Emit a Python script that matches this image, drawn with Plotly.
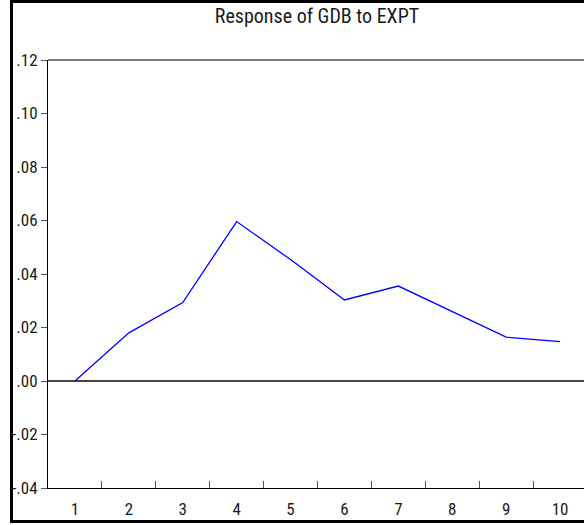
import plotly.graph_objects as go

periods = [1, 2, 3, 4, 5, 6, 7, 8, 9, 10]
response = [0.0, 0.018, 0.0293, 0.0596, 0.0454, 0.0303, 0.0355, 0.026, 0.0164, 0.0147]
y_tick_vals = [0.12, 0.10, 0.08, 0.06, 0.04, 0.02, 0.0, -0.02, -0.04]
y_tick_text = [".12", ".10", ".08", ".06", ".04", ".02", ".00", "-.02", "-.04"]
x_tick_text = [str(p) for p in periods]
between_ticks = [p + 0.5 for p in periods[:-1]]
title_text = "Response of GDB to EXPT"

FONT = "Roboto Condensed, Liberation Sans, Arial, sans-serif"

fig = go.Figure()
fig.add_trace(go.Scatter(x=periods, y=response, mode="lines",
                         line=dict(color="#0000ff", width=1.3),
                         hoverinfo="skip", showlegend=False))
fig.add_trace(go.Scatter(x=periods, y=response, mode="lines", xaxis="x2",
                         line=dict(color="rgba(0,0,0,0)", width=0),
                         hoverinfo="skip", showlegend=False))

xr = [0.5, 10.444]
fig.update_layout(
    width=584, height=525,
    margin=dict(l=48, r=0, t=60, b=37),
    paper_bgcolor="white", plot_bgcolor="white",
    font=dict(family=FONT, size=17, color="#1a1a1a"),
    title=dict(text=title_text, x=317 / 584, xanchor="center",
               y=1 - 16 / 525, yanchor="middle",
               font=dict(family=FONT, size=20, color="#1a1a1a")),
    xaxis=dict(range=xr, tickvals=periods, ticktext=x_tick_text, ticks="",
               showgrid=False, zeroline=False, showline=True, linecolor="black",
               linewidth=1, mirror=False, ticklabelstandoff=6, fixedrange=True),
    xaxis2=dict(range=xr, overlaying="x", anchor="y", side="bottom",
                tickvals=between_ticks, ticks="inside", ticklen=7, tickwidth=1,
                tickcolor="#555", showticklabels=False, showgrid=False,
                zeroline=False, showline=False),
    yaxis=dict(range=[-0.04, 0.12], tickvals=y_tick_vals, ticktext=y_tick_text,
               ticks="outside", ticklen=6, tickwidth=1, tickcolor="#555",
               showgrid=False, zeroline=True, zerolinecolor="#444", zerolinewidth=2,
               showline=True, linecolor="black", linewidth=1, fixedrange=True),
    shapes=[
        dict(type="line", xref="paper", yref="paper", x0=0, x1=1.01, y0=1, y1=1,
             line=dict(color="black", width=1)),
        dict(type="rect", xref="paper", yref="paper",
             x0=(11.5 - 48) / 536, x1=1.05,
             y0=(488 - 521.5) / 428, y1=(488 - 1.5) / 428,
             line=dict(color="black", width=3)),
    ],
)

fig.write_html("out.html", config={"displayModeBar": False},
               post_script="document.body.style.margin='0';document.body.style.overflow='hidden';")
